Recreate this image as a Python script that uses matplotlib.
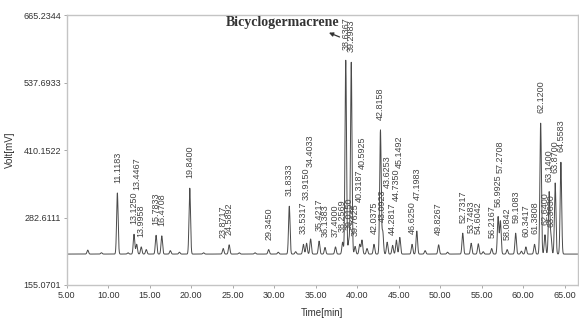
import numpy as np
import matplotlib.pyplot as plt

# GC chromatogram: retention times [min] of the integrated peaks and their apex [mV]
peak_times = [11.1183, 13.1250, 13.4467, 13.9958, 15.7833, 16.4708, 19.8400,
              23.8717, 24.5892, 29.3450, 31.8333, 33.5317, 33.9150, 34.4033,
              35.4217, 36.1383, 37.4000, 38.2569, 38.6367, 39.0150, 39.2983,
              39.7625, 40.3187, 40.5925, 42.0375, 42.8158, 43.0923, 43.6253,
              44.2817, 44.7350, 45.1492, 46.6250, 47.1983, 49.8267, 52.7317,
              53.7483, 54.6042, 56.2167, 56.9925, 57.2708, 58.0842, 59.1083,
              60.3417, 61.3808, 62.1200, 62.6400, 63.1400, 63.3630, 63.8700,
              64.5583]
peak_heights = [329, 251, 232, 227, 249, 248, 338,
                224, 231, 222, 304, 232, 234, 242,
                238, 226, 227, 236, 580, 240, 576,
                228, 232, 240, 232, 448, 256, 236,
                230, 240, 245, 232, 257, 231, 253,
                234, 233, 224, 284, 276, 222, 253,
                227, 232, 461, 250, 330, 246, 348,
                387]

# small unlabelled bumps on the baseline
minor_times = [7.55, 9.20, 12.40, 14.60, 17.50, 18.60, 21.50, 25.80, 27.70,
               30.50, 32.60, 41.20, 48.20, 50.90, 55.20, 59.80]
minor_heights = [221, 216, 216, 222, 220, 217, 216, 216, 216,
                 217, 218, 224, 220, 217, 218, 219]

baseline = 213.5
y_ticks = [155.0701, 282.6111, 410.1522, 537.6933, 665.2344]
x_ticks = [5.00, 10.00, 15.00, 20.00, 25.00, 30.00, 35.00, 40.00, 45.00,
           50.00, 55.00, 60.00, 65.00]
x_max = 66.6

# build the detector trace from the peak table
t = np.linspace(5.0, x_max, 8000)
signal = np.full_like(t, baseline)
for tr, h in zip(peak_times + minor_times, peak_heights + minor_heights):
    signal += (h - baseline) * np.exp(-(t - tr) ** 2 / (2 * 0.09 ** 2))

plt.rcParams['font.family'] = ['Liberation Sans', 'DejaVu Sans']

fig = plt.figure(figsize=(5.79, 3.22), dpi=100)
ax = fig.add_axes([0.115, 0.115, 0.883, 0.838])
ax.plot(t, signal, color='#4a4a4a', lw=0.7)

ax.set_xlim(5.0, x_max)
ax.set_ylim(y_ticks[0], y_ticks[-1])
ax.set_xticks(x_ticks)
ax.set_xticklabels([f"{v:.2f}" for v in x_ticks])
ax.set_yticks(y_ticks)
ax.set_yticklabels([f"{v:.4f}" for v in y_ticks])
ax.tick_params(labelsize=6.5, colors='#9a9a9a', labelcolor='#333333',
               length=2.5, width=0.6, pad=1.5)
for s in ax.spines.values():
    s.set_color('#c4c4c4')
    s.set_linewidth(1.0)

ax.set_xlabel('Time[min]', fontsize=7, color='#333333', labelpad=6)
ax.set_ylabel('Volt[mV]', fontsize=7, color='#333333', labelpad=6)

# rotated retention-time labels, pushed up when they sit on top of a neighbour
gap = 19.0
lab_len = 62.0
lab_wid = 0.6
placed = []
for tr, h in zip(peak_times, peak_heights):
    y0 = h + gap
    moved = True
    while moved:
        moved = False
        for pt, pb in placed:
            if abs(pt - tr) < lab_wid and y0 < pb + lab_len and pb < y0 + lab_len:
                y0 = pb + lab_len + 2
                moved = True
    y0 = min(y0, y_ticks[-1] - lab_len - 4)
    placed.append((tr, y0))
    ax.text(tr, y0, f"{tr:.4f}", rotation=90, ha='center', va='bottom',
            fontsize=6.5, color='#444444')

ax.text(31.0, 652, 'Bicyclogermacrene', family='Liberation Serif',
        fontweight='bold', fontsize=10, color='#333333', ha='center', va='center')
ax.annotate('', xy=(36.3, 634), xytext=(38.2, 622),
            arrowprops=dict(arrowstyle='-|>', color='#333333', lw=0.9,
                            mutation_scale=6))

fig.savefig('out.png', dpi=100, facecolor='white')
